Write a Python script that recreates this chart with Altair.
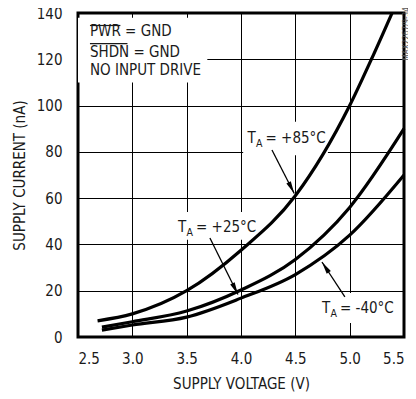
import math
import altair as alt
import pandas as pd

FONT = "DejaVu Sans Condensed"
INK = "#1a1a1a"
FS = 15

# ---- data ----
v85 = [2.68, 3.0, 3.5, 4.0, 4.5, 5.0, 5.2, 5.39]
i85 = [7.0, 10.0, 20.0, 37.5, 61.0, 100.0, 120.0, 140.0]
v25 = [2.72, 3.0, 3.5, 4.0, 4.5, 5.0, 5.5]
i25 = [4.3, 6.6, 11.2, 20.3, 33.5, 56.0, 90.0]
vm40 = [2.72, 3.0, 3.5, 4.0, 4.5, 5.0, 5.5]
im40 = [3.0, 5.2, 8.6, 16.8, 27.0, 44.0, 70.0]

x_ticks = [2.5, 3.0, 3.5, 4.0, 4.5, 5.0, 5.5]
y_ticks = [0, 20, 40, 60, 80, 100, 120, 140]

# annotation labels (T_A = ...)
lab_text = ["= +85°C", "= +25°C", "= -40°C"]
lab_v = [4.06, 3.42, 4.745]
lab_i = [83.8, 45.4, 10.4]
# white boxes behind labels
box_v = [4.02, 3.39, 4.71, 2.5]
box_v2 = [4.80, 4.11, 5.42, 3.69]
box_i = [93.0, 54.0, 19.0, 138.0]
box_i2 = [78.5, 42.0, 6.0, 110.0]
# arrows (tail -> tip)
arr_v = [4.285, 3.714, 4.956]
arr_i = [80.8, 42.8, 17.3]
arr_v2 = [4.49, 3.972, 4.745]
arr_i2 = [62.0, 18.4, 32.4]

# info text block
info_lines = ["PWR = GND", "SHDN = GND", "NO INPUT DRIVE"]
info_v = 2.61
info_i = [130.1, 121.0, 113.2]
over_v = [2.61, 2.61]
over_v2 = [2.89, 2.955]
over_i = [134.6, 126.8]

W, H = 326, 324
XT = "SUPPLY VOLTAGE (V)"
YT = "SUPPLY CURRENT (nA)"

xs = alt.Scale(domain=[2.5, 5.5], nice=False, zero=False)
ys = alt.Scale(domain=[0, 140], nice=False, zero=False)

curves = pd.DataFrame(
    [{"V": v, "I": i, "s": "85"} for v, i in zip(v85, i85)]
    + [{"V": v, "I": i, "s": "25"} for v, i in zip(v25, i25)]
    + [{"V": v, "I": i, "s": "m40"} for v, i in zip(vm40, im40)]
)

base_x = alt.X("V:Q", scale=xs, title=XT,
               axis=alt.Axis(values=x_ticks, format=".1f", grid=True, ticks=False,
                             domain=False, labelPadding=14, titlePadding=10))
base_y = alt.Y("I:Q", scale=ys, title=YT,
               axis=alt.Axis(values=y_ticks, grid=True, ticks=False, domain=False,
                             labelPadding=16, titlePadding=9))

boxes = alt.Chart(pd.DataFrame({"V": box_v, "V2": box_v2, "I": box_i, "I2": box_i2})).mark_rect(
    color="white"
).encode(x=base_x, x2="V2:Q", y=base_y, y2="I2:Q")

lines = alt.Chart(curves).mark_line(color="black", strokeWidth=3.2, interpolate="monotone").encode(
    x=alt.X("V:Q", scale=xs, title=XT), y=alt.Y("I:Q", scale=ys, title=YT), detail="s:N"
)

sx = W / 3.0
sy = H / 140.0
angles = []
for a, b, c, d in zip(arr_v, arr_i, arr_v2, arr_i2):
    dx = (c - a) * sx
    dy = -(d - b) * sy
    ang = math.degrees(math.atan2(dx, -dy)) % 360
    angles.append(ang)

arr_df = pd.DataFrame({"V": arr_v, "I": arr_i, "V2": arr_v2, "I2": arr_i2, "ang": angles})
arrows = alt.Chart(arr_df).mark_rule(color="black", strokeWidth=1.3).encode(
    x=alt.X("V:Q", scale=xs, title=XT), y=alt.Y("I:Q", scale=ys, title=YT), x2="V2:Q", y2="I2:Q"
)
heads = alt.Chart(arr_df).mark_point(
    shape="M0,0L-0.42,2.1L0.42,2.1Z", filled=True, color="black", size=140, opacity=1
).encode(
    x=alt.X("V2:Q", scale=xs, title=XT), y=alt.Y("I2:Q", scale=ys, title=YT),
    angle=alt.Angle("ang:Q", scale=None)
)

lab_df = pd.DataFrame({"V": lab_v, "I": lab_i, "t": lab_text})
lab_T = alt.Chart(lab_df).mark_text(text="T", align="left", baseline="alphabetic",
                                    font=FONT, fontSize=FS, color=INK).encode(
    x=alt.X("V:Q", scale=xs, title=XT), y=alt.Y("I:Q", scale=ys, title=YT))
lab_A = alt.Chart(lab_df).mark_text(text="A", align="left", baseline="alphabetic",
                                    font=FONT, fontSize=10.5, color=INK, dx=8.5, dy=4).encode(
    x=alt.X("V:Q", scale=xs, title=XT), y=alt.Y("I:Q", scale=ys, title=YT))
lab_rest = alt.Chart(lab_df).mark_text(align="left", baseline="alphabetic",
                                       font=FONT, fontSize=FS, color=INK, dx=18).encode(
    x=alt.X("V:Q", scale=xs, title=XT), y=alt.Y("I:Q", scale=ys, title=YT), text="t:N")

info_df = pd.DataFrame({"V": [info_v] * 3, "I": info_i, "t": info_lines})
info = alt.Chart(info_df).mark_text(align="left", baseline="alphabetic",
                                    font=FONT, fontSize=FS, color=INK).encode(
    x=alt.X("V:Q", scale=xs, title=XT), y=alt.Y("I:Q", scale=ys, title=YT), text="t:N")
over_df = pd.DataFrame({"V": over_v, "V2": over_v2, "I": over_i})
overs = alt.Chart(over_df).mark_rule(color=INK, strokeWidth=1.2).encode(
    x=alt.X("V:Q", scale=xs, title=XT), x2="V2:Q", y=alt.Y("I:Q", scale=ys, title=YT))

code_df = pd.DataFrame({"V": [5.528], "I": [131.0], "t": ["MAX2267/9-34"]})
code = alt.Chart(code_df).mark_text(angle=270, align="center", baseline="middle",
                                    font=FONT, fontSize=8, color="#555", clip=False).encode(
    x=alt.X("V:Q", scale=xs, title=XT), y=alt.Y("I:Q", scale=ys, title=YT), text="t:N")

chart = alt.layer(boxes, lines, arrows, heads, lab_T, lab_A, lab_rest, info, overs, code).properties(
    width=W, height=H,
    autosize=alt.AutoSizeParams(type="none"),
    padding={"left": 70, "top": 5, "right": 4, "bottom": 56},
).configure_view(
    stroke="black", strokeWidth=3
).configure_axis(
    gridColor="black", gridOpacity=1, gridWidth=1,
    labelFont=FONT, labelFontSize=FS, labelColor=INK,
    titleFont=FONT, titleFontSize=FS, titleColor=INK, titleFontWeight="normal",
)

chart.save("out.html", embed_options={"renderer": "svg", "actions": False})
